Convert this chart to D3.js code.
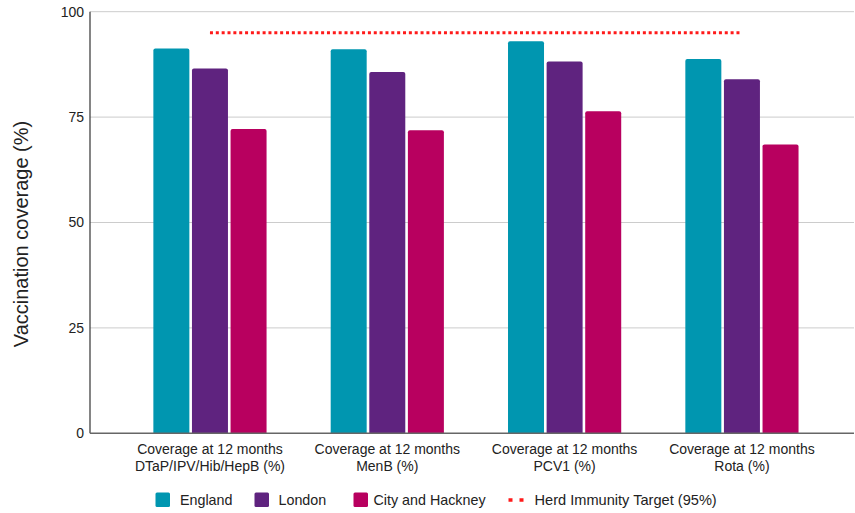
<!DOCTYPE html>
<html>
<head>
<meta charset="utf-8">
<script src="https://cdn.jsdelivr.net/npm/d3@7"></script>
<style>
  html, body { margin: 0; padding: 0; background: #fff; }
  svg { display: block; font-family: "Liberation Sans", Arial, sans-serif; }
</style>
</head>
<body>
<svg id="chart" width="855" height="513"></svg>
<script>
// Childhood vaccination coverage at 12 months, by area
const categories = [
  ["Coverage at 12 months", "DTaP/IPV/Hib/HepB (%)"],
  ["Coverage at 12 months", "MenB (%)"],
  ["Coverage at 12 months", "PCV1 (%)"],
  ["Coverage at 12 months", "Rota (%)"]
];
const seriesNames = ["England", "London", "City and Hackney"];
const england = [91.3, 91.1, 93.0, 88.8];
const london = [86.5, 85.7, 88.2, 84.0];
const cityHackney = [72.2, 71.9, 76.4, 68.5];
const herdTarget = 95;
const targetLabel = "Herd Immunity Target (95%)";
const yTicks = [0, 25, 50, 75, 100];
const yTitle = "Vaccination coverage (%)";

const colors = ["#0096b0", "#5f237f", "#b8005f"];
const values = [england, london, cityHackney];

const svg = d3.select("#chart");
const axisLeft = 90, axisRight = 854;
const plotTop = 11.7, plotBottom = 433.3;

const y = d3.scaleLinear().domain([0, 100]).range([plotBottom, plotTop]);
const x = d3.scaleBand().domain(d3.range(categories.length)).range([121.3, 830.6]).paddingInner(0).paddingOuter(0);
const barW = 36, barGap = 2.6;
const inner = d3.scaleBand().domain(d3.range(seriesNames.length))
  .range([-(3 * barW + 2 * barGap) / 2, (3 * barW + 2 * barGap) / 2])
  .paddingInner(barGap / (barW + barGap)).paddingOuter(0);

// gridlines
svg.append("g").selectAll("line").data(yTicks.filter(d => d > 0)).join("line")
  .attr("x1", axisLeft).attr("x2", axisRight)
  .attr("y1", d => y(d)).attr("y2", d => y(d))
  .attr("stroke", "#cccccc").attr("stroke-width", 1);

// y tick labels
svg.append("g").selectAll("text").data(yTicks).join("text")
  .attr("x", 84).attr("y", d => y(d)).attr("dy", "0.35em")
  .attr("text-anchor", "end").attr("font-size", 14).attr("fill", "#222")
  .text(d => d);

// y title
svg.append("text")
  .attr("transform", `translate(28,234) rotate(-90)`)
  .attr("text-anchor", "middle").attr("font-size", 20).attr("fill", "#222")
  .text(yTitle);

// bars with slightly rounded tops
function barPath(x0, w, yTop, yBase, r) {
  return `M${x0},${yBase}V${yTop + r}Q${x0},${yTop} ${x0 + r},${yTop}H${x0 + w - r}Q${x0 + w},${yTop} ${x0 + w},${yTop + r}V${yBase}Z`;
}
const barData = [];
categories.forEach((c, i) => values.forEach((s, j) => barData.push({ i, j, v: s[i] })));
svg.append("g").selectAll("path").data(barData).join("path")
  .attr("d", d => {
    const cx = x(d.i) + x.bandwidth() / 2;
    return barPath(cx + inner(d.j), inner.bandwidth(), y(d.v), y(0), 2);
  })
  .attr("fill", d => colors[d.j]);

// axes lines
svg.append("line").attr("x1", axisLeft).attr("x2", axisLeft).attr("y1", plotTop).attr("y2", plotBottom)
  .attr("stroke", "#333").attr("stroke-width", 1.2);
svg.append("line").attr("x1", axisLeft).attr("x2", axisRight).attr("y1", plotBottom).attr("y2", plotBottom)
  .attr("stroke", "#666").attr("stroke-width", 1.5);

// herd immunity target line, from first to last category centre
const xc = i => x(i) + x.bandwidth() / 2;
svg.append("line")
  .attr("x1", xc(0)).attr("x2", xc(categories.length - 1))
  .attr("y1", y(herdTarget)).attr("y2", y(herdTarget))
  .attr("stroke", "#ff1a1a").attr("stroke-width", 3).attr("stroke-dasharray", "3,2.85");

// category labels
const lab = svg.append("g").selectAll("text").data(categories).join("text")
  .attr("text-anchor", "middle").attr("font-size", 14).attr("fill", "#222");
lab.each(function (c, i) {
  const t = d3.select(this);
  c.forEach((line, k) => t.append("tspan").attr("x", xc(i)).attr("y", 454 + k * 17).text(line));
});

// legend
const legY = 500;
const legendItems = [
  { label: seriesNames[0], color: colors[0], x: 155.5, tx: 180 },
  { label: seriesNames[1], color: colors[1], x: 254.5, tx: 278.5 },
  { label: seriesNames[2], color: colors[2], x: 353.5, tx: 373.5 }
];
const leg = svg.append("g");
legendItems.forEach(d => {
  leg.append("rect").attr("x", d.x).attr("y", legY - 7.5).attr("width", 14.5).attr("height", 14.5)
    .attr("rx", 1.5).attr("fill", d.color);
  leg.append("text").attr("x", d.tx).attr("y", legY).attr("dy", "0.35em")
    .attr("font-size", 14.3).attr("fill", "#222").text(d.label);
});
leg.append("line").attr("x1", 508.5).attr("x2", 524).attr("y1", legY).attr("y2", legY)
  .attr("stroke", "#ff1a1a").attr("stroke-width", 3.5).attr("stroke-dasharray", "4,7");
leg.append("text").attr("x", 534.5).attr("y", legY).attr("dy", "0.35em")
  .attr("font-size", 14.6).attr("fill", "#222").text(targetLabel);
</script>
</body>
</html>
